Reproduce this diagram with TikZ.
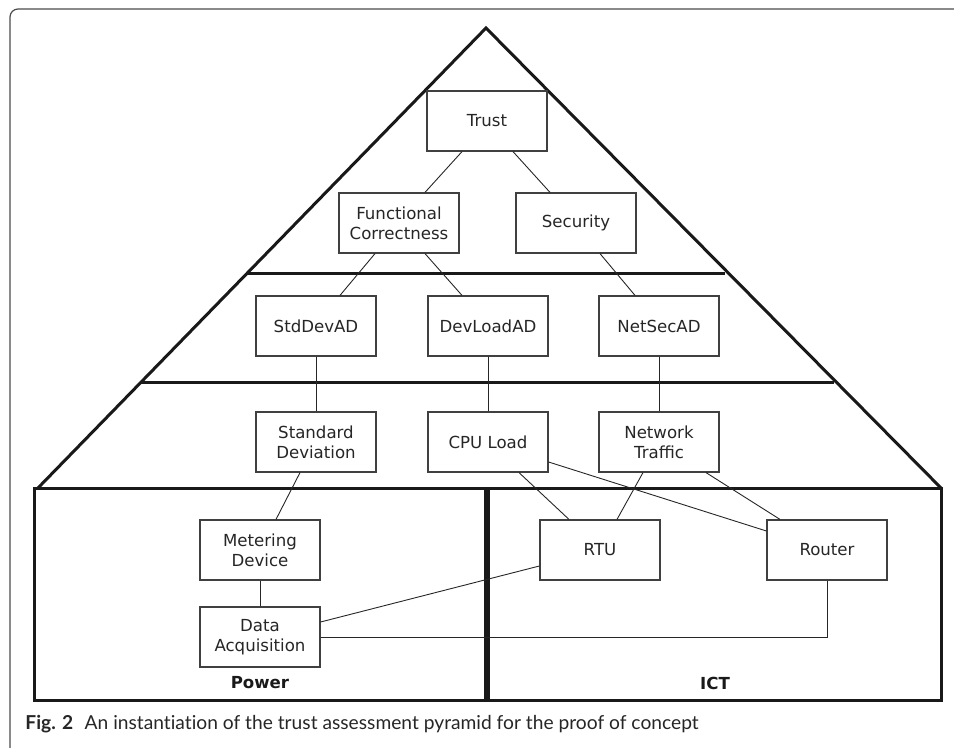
\documentclass[tikz,border=0pt]{standalone}
\usepackage{fontspec}
\setmainfont{DejaVu Sans}
\newfontfamily\capfont[Ligatures=NoCommon]{Lato}
\usetikzlibrary{calc}

\begin{document}
\begin{tikzpicture}[x=0.5pt,y=-0.5pt,
  box/.style={draw=black!75, line width=0.6pt, fill=white, minimum width=60pt, minimum height=30pt,
    inner sep=1pt, align=center, text=black!85, font=\fontsize{8.3}{10}\selectfont},
  link/.style={black!85, line width=0.45pt},
  wall/.style={black!90, line width=1.5pt},
  zone/.style={font=\fontsize{8.3}{10}\selectfont\bfseries, text=black!90}]
\useasboundingbox (0,0) rectangle (954,748);

% page frame
\draw[black!70, line width=0.6pt, rounded corners=4pt] (10,748) -- (10,9) -- (954,9);

% pyramid outline and the layer lines
\draw[wall, line join=miter] (37,489) -- (486,28) -- (942,489);
\draw[wall] (246,274) -- (725,274);
\draw[wall] (141,383) -- (834,383);
\draw[wall] (34,489) rectangle (485,701);
\draw[wall] (488,489) rectangle (941,701);

% top layer
\node[box] (trust) at (487,121) {Trust};
\node[box] (func) at (399,223) {Functional\\Correctness};
\node[box] (sec) at (576,223) {Security};

% anomaly detectors
\node[box] (stddevad) at (316,326) {StdDevAD};
\node[box] (devloadad) at (488,326) {DevLoadAD};
\node[box] (netsecad) at (659,326) {NetSecAD};

% metrics
\node[box] (stddev) at (316,442) {Standard\\Deviation};
\node[box] (cpu) at (488,442) {CPU Load};
\node[box] (traffic) at (659,442) {Network\\Traffic};

% devices
\node[box] (meter) at (260,550) {Metering\\Device};
\node[box] (daq) at (260,637) {Data\\Acquisition};
\node[box] (rtu) at (600,550) {RTU};
\node[box] (router) at (827,550) {Router};

\node[zone] (power) at (260,683) {Power};
\node[zone] (ict) at (715,683) {ICT};

% connections
\draw[link] ($(trust.south)+(-25,0)$) -- ($(func.north)+(26,0)$);
\draw[link] ($(trust.south)+(26,0)$) -- ($(sec.north)+(-26,0)$);
\draw[link] ($(func.south)+(-24,0)$) -- ($(stddevad.north)+(24,0)$);
\draw[link] ($(func.south)+(26,0)$) -- ($(devloadad.north)+(-26,0)$);
\draw[link] ($(sec.south)+(24,0)$) -- ($(netsecad.north)+(-24,0)$);
\draw[link] (stddevad) -- (stddev);
\draw[link] (devloadad) -- (cpu);
\draw[link] (netsecad) -- (traffic);
\draw[link] ($(stddev.south)+(-16,0)$) -- ($(meter.north)+(16,0)$);
\draw[link] ($(cpu.south)+(31,0)$) -- ($(rtu.north)+(-31,0)$);
\draw[link] ($(cpu.east)+(0,20)$) -- ($(router.west)+(0,-19)$);
\draw[link] ($(traffic.south)+(-16,0)$) -- ($(rtu.north)+(17,0)$);
\draw[link] ($(traffic.south)+(47,0)$) -- ($(router.north)+(-47,0)$);
\draw[link] (meter) -- (daq);
\draw[link] ($(daq.east)+(0,-15)$) -- ($(rtu.west)+(0,16)$);
\draw[link] (daq.east) -| (router.south);

% caption
\node[anchor=base west, inner sep=0pt, font=\capfont\fontsize{9.6}{11}\selectfont, text=black!85] (caption) at (25,729)
  {\textbf{Fig. 2}\hspace{0.6em}An instantiation of the trust assessment pyramid for the proof of concept};
\end{tikzpicture}
\end{document}
